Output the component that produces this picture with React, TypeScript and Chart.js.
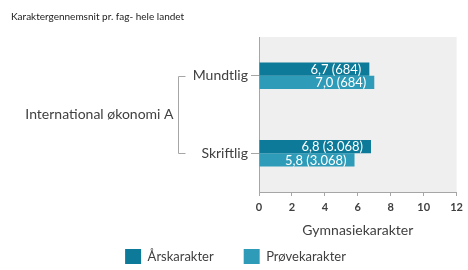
import React, { useEffect, useRef } from 'react';
import { Chart, registerables } from 'chart.js';

Chart.register(...registerables);

const chartTitle = 'Karaktergennemsnit pr. fag- hele landet';
const groupLabel = 'International økonomi A';
const categories = ['Mundtlig', 'Skriftlig'];
const seriesNames = ['Årskarakter', 'Prøvekarakter'];
const aarskarakter = [6.7, 6.8];
const proevekarakter = [7.0, 5.8];
const aarsCounts = [684, 3068];
const proeveCounts = [684, 3068];
const xTicks = [0, 2, 4, 6, 8, 10, 12];
const xTitle = 'Gymnasiekarakter';
const seriesColors = ['#0c7a98', '#2e9cb9'];

const FONT = "Lato, 'Open Sans', sans-serif";
const TEXT = '#404040';
const AXIS = '#a6a6a6';

const fmtInt = (n: number) => String(n).replace(/\B(?=(\d{3})+(?!\d))/g, '.');
const fmtLabel = (v: number, n: number) => `${v.toFixed(1).replace('.', ',')} (${fmtInt(n)})`;

const bgPlugin = {
  id: 'plotBg',
  beforeDraw(chart: any) {
    const { ctx, chartArea: a } = chart;
    ctx.save();
    ctx.fillStyle = '#efefef';
    ctx.fillRect(a.left, a.top, a.right - a.left, a.bottom - a.top);
    ctx.restore();
  },
};

const valueLabelPlugin = {
  id: 'valueLabels',
  afterDatasetsDraw(chart: any) {
    const { ctx } = chart;
    const counts = [aarsCounts, proeveCounts];
    ctx.save();
    ctx.font = `13px ${FONT}`;
    ctx.fillStyle = '#ffffff';
    ctx.textAlign = 'right';
    ctx.textBaseline = 'middle';
    chart.data.datasets.forEach((ds: any, di: number) => {
      const meta = chart.getDatasetMeta(di);
      meta.data.forEach((bar: any, i: number) => {
        ctx.fillText(fmtLabel(ds.data[i], counts[di][i]), bar.x - 8, bar.y + 0.5);
      });
    });
    ctx.restore();
  },
};

const groupPlugin = {
  id: 'groupBracket',
  afterDraw(chart: any) {
    const { ctx, chartArea } = chart;
    const y = chart.scales.y;
    const y0 = y.getPixelForValue(0);
    const y1 = y.getPixelForValue(categories.length - 1);
    const bx = chartArea.left - 80.5;
    ctx.save();
    ctx.strokeStyle = AXIS;
    ctx.lineWidth = 1;
    ctx.beginPath();
    ctx.moveTo(bx + 7, Math.round(y0) + 0.5);
    ctx.lineTo(bx, Math.round(y0) + 0.5);
    ctx.lineTo(bx, Math.round(y1) + 0.5);
    ctx.lineTo(bx + 7, Math.round(y1) + 0.5);
    ctx.stroke();
    ctx.font = `14px ${FONT}`;
    ctx.fillStyle = TEXT;
    ctx.textAlign = 'right';
    ctx.textBaseline = 'middle';
    ctx.fillText(groupLabel, bx - 5, (y0 + y1) / 2);
    ctx.restore();
  },
};

export default function App() {
  const ref = useRef<HTMLCanvasElement | null>(null);

  useEffect(() => {
    if (!ref.current) return;
    const chart = new Chart(ref.current, {
      type: 'bar',
      data: {
        labels: categories,
        datasets: [
          {
            label: seriesNames[0],
            data: aarskarakter,
            backgroundColor: seriesColors[0],
            categoryPercentage: 0.34,
            barPercentage: 1,
          },
          {
            label: seriesNames[1],
            data: proevekarakter,
            backgroundColor: seriesColors[1],
            categoryPercentage: 0.34,
            barPercentage: 1,
          },
        ],
      },
      plugins: [bgPlugin, valueLabelPlugin, groupPlugin],
      options: {
        indexAxis: 'y',
        responsive: false,
        animation: false,
        layout: { padding: { left: 11, right: 8, top: 0, bottom: -4 } },
        plugins: {
          title: {
            display: true,
            text: chartTitle,
            align: 'start',
            color: '#222222',
            font: { family: FONT, size: 10, weight: 'normal' },
            padding: { top: 11, bottom: 14 },
          },
          legend: {
            position: 'bottom',
            labels: {
              boxWidth: 16,
              boxHeight: 15,
              padding: 30,
              color: TEXT,
              font: { family: FONT, size: 13 },
            },
          },
          tooltip: { enabled: false },
        },
        scales: {
          x: {
            type: 'linear',
            min: 0,
            max: 12,
            afterBuildTicks: (scale: any) => {
              scale.ticks = xTicks.map((v) => ({ value: v }));
            },
            afterFit: (scale: any) => {
              scale.height = 27;
            },
            grid: { display: true, drawOnChartArea: false, drawTicks: true, tickLength: 4, color: AXIS },
            border: { display: true, color: AXIS },
            ticks: { color: TEXT, padding: 5, font: { family: FONT, size: 11, weight: 'bold' } },
            title: {
              display: true,
              text: xTitle,
              color: TEXT,
              font: { family: FONT, size: 14 },
              padding: { top: 0, bottom: -20 },
            },
          },
          y: {
            type: 'category',
            afterFit: (scale: any) => {
              scale.width = 248;
            },
            grid: { display: true, drawOnChartArea: false, drawTicks: true, tickLength: 8, offset: false, color: AXIS },
            border: { display: true, color: AXIS },
            ticks: { color: TEXT, padding: 3, font: { family: FONT, size: 14 } },
          },
        },
      } as any,
    });
    return () => chart.destroy();
  }, []);

  return (
    <div style={{ position: 'absolute', left: 0, top: 0, width: 468, height: 270 }}>
      <canvas ref={ref} width={468} height={270} style={{ display: 'block' }} />
    </div>
  );
}
